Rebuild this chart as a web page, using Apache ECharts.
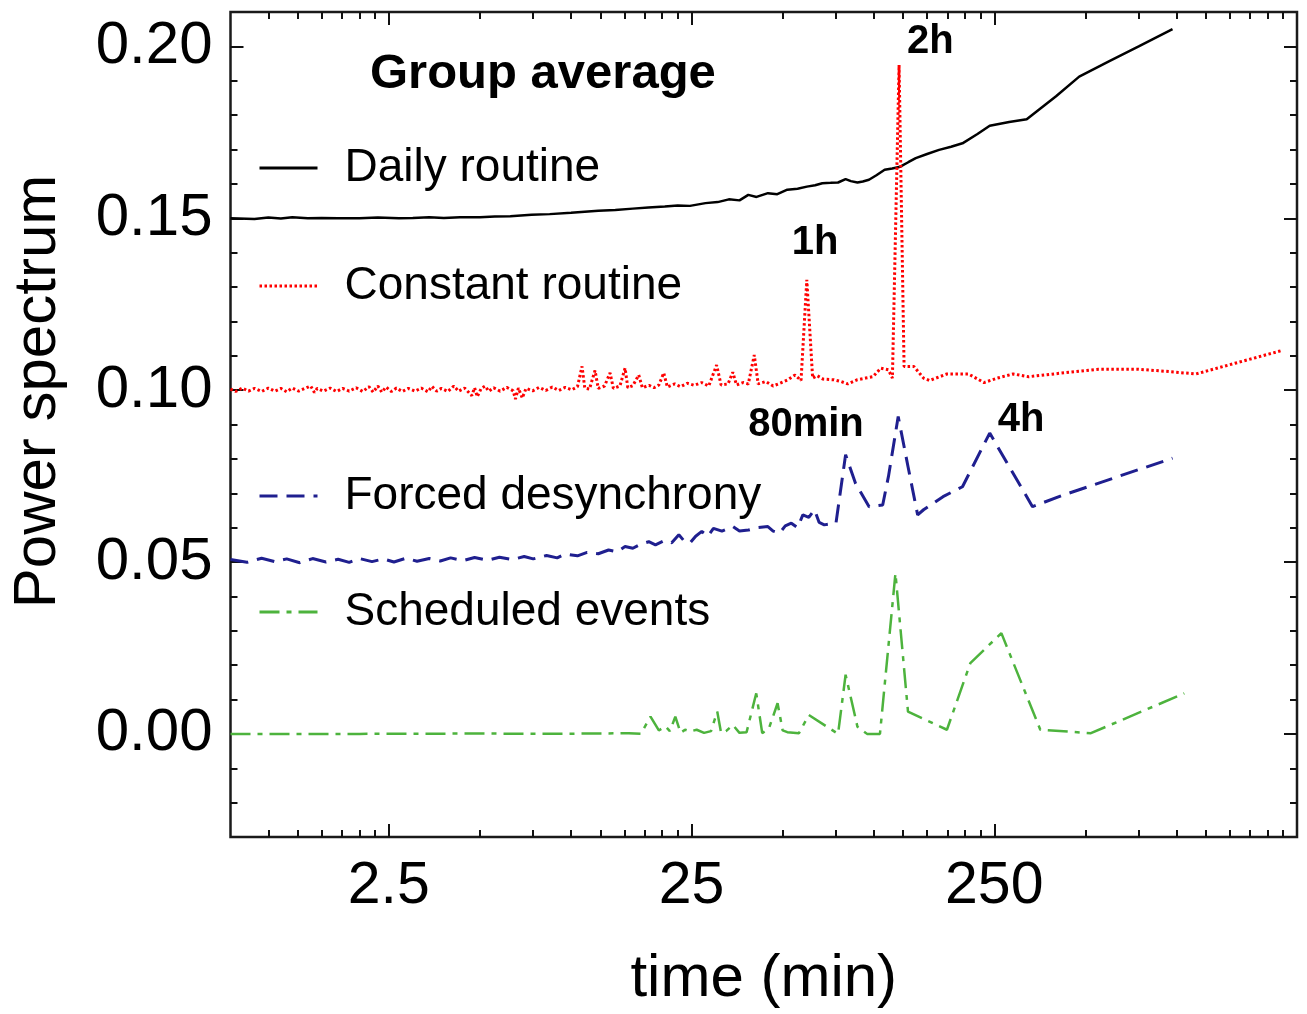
<!DOCTYPE html>
<html>
<head>
<meta charset="utf-8">
<title>Group average</title>
<script src="https://cdn.jsdelivr.net/npm/echarts@6/dist/echarts.min.js"></script>
<style>
  html, body { margin: 0; padding: 0; background: #fff; }
  #chart { width: 1307px; height: 1014px; }
</style>
</head>
<body>
<div id="chart"></div>
<script>
// period (min) / power values
var dailyT = [0.75, 0.9, 1.0, 1.1, 1.2, 1.35, 1.5, 1.7, 2.0, 2.3, 2.7, 3.0, 3.4, 3.8, 4.3, 5.0, 5.6, 6.3, 7.4, 8.5,
  10, 12.3, 14, 16, 18, 20.4, 22.5, 24.7, 27.8, 30.5, 33.2, 36, 38.5, 41, 44.7, 48, 51.8, 56, 60.1, 64, 67.6, 72,
  76.2, 80.7, 84, 88.3, 92, 96.4, 102, 108.6, 115, 122.3, 130, 137.6, 150, 164.3, 180, 196.3, 220, 241.5, 280,
  320, 400, 477, 600, 750, 970];
var dailyV = [0.1500, 0.1498, 0.1502, 0.1499, 0.1503, 0.1500, 0.1501, 0.1500, 0.1500, 0.1502, 0.1500, 0.1501,
  0.1503, 0.1501, 0.1503, 0.1503, 0.1505, 0.1506, 0.1510, 0.1512, 0.1516, 0.1522, 0.1524, 0.1528, 0.1531, 0.1534,
  0.1537, 0.1536, 0.1544, 0.1547, 0.1555, 0.1552, 0.1568, 0.1562, 0.1573, 0.1570, 0.1583, 0.1586, 0.1592, 0.1596,
  0.1602, 0.1603, 0.1604, 0.1614, 0.1608, 0.1604, 0.1607, 0.1612, 0.1625, 0.1641, 0.1645, 0.1650, 0.1663, 0.1675,
  0.1687, 0.1699, 0.1708, 0.1718, 0.1745, 0.1769, 0.1780, 0.1788, 0.1855, 0.1912, 0.1957, 0.2000, 0.2050];

var constantT = [0.75, 0.78, 0.82, 0.86, 0.9, 0.95, 1.0, 1.05, 1.1, 1.15, 1.2, 1.26, 1.32, 1.38, 1.42, 1.45, 1.52,
  1.6, 1.68, 1.76, 1.85, 1.95, 2.05, 2.15, 2.22, 2.3, 2.37, 2.45, 2.55, 2.65, 2.77, 2.9, 3.05, 3.2, 3.37, 3.47, 3.6,
  3.73, 3.92, 4.1, 4.25, 4.45, 4.7, 4.8, 4.9, 5.05, 5.2, 5.35, 5.55, 5.83, 6.13, 6.44, 6.55, 6.7, 6.9, 7.1, 7.47,
  7.85, 8.25, 8.67, 9.1, 9.57, 10.05, 10.5, 10.87, 11.1, 11.5, 12.0, 12.3, 12.9, 13.45, 13.8, 14.5, 15.08, 15.4, 16.0,
  16.73, 17.2, 18.1, 18.8, 19.5, 20.24, 20.8, 22, 23, 24.2, 25.5, 27, 28.5, 30.25, 31.3, 33, 34.22, 35.2, 37, 38.5,
  40.29, 41.5, 44, 46.5, 49, 52, 54.95, 57.5, 60.08, 62.8, 65, 68, 73.9, 78, 82, 88, 94, 99.4, 105.5, 111.8, 115.2,
  121.2, 125.9, 135.6, 146, 152.7, 174.4, 205.3, 231.1, 256, 288.5, 324.6, 411.6, 553.4, 743.9,
  942.4, 1159, 1558, 2223];
var constantV = [0.1003, 0.0996, 0.1006, 0.0997, 0.1005, 0.0996, 0.1006, 0.0997, 0.1005, 0.0995, 0.1006, 0.0997,
  0.1005, 0.1012, 0.0993, 0.1005, 0.0997, 0.1006, 0.0996, 0.1005, 0.0997, 0.1007, 0.0996, 0.1010, 0.0994, 0.1012,
  0.0994, 0.1009, 0.0996, 0.1006, 0.0996, 0.1005, 0.0997, 0.1006, 0.0995, 0.1011, 0.0997, 0.1005, 0.0996, 0.1012,
  0.0997, 0.1006, 0.0984, 0.1007, 0.0981, 0.1005, 0.1012, 0.0997, 0.1007, 0.0997, 0.1008, 0.0998, 0.0974, 0.1006,
  0.0977, 0.1005, 0.0998, 0.1008, 0.0999, 0.1009, 0.0999, 0.1008, 0.1001, 0.1010, 0.1069, 0.1006, 0.1003, 0.1057,
  0.1005, 0.1012, 0.1050, 0.1005, 0.1012, 0.1064, 0.1007, 0.1013, 0.1044, 0.1007, 0.1014, 0.1007, 0.1015, 0.1050,
  0.1009, 0.1018, 0.1010, 0.1020, 0.1014, 0.1022, 0.1012, 0.1073, 0.1015, 0.1018, 0.1052, 0.1015, 0.1022, 0.1018,
  0.1102, 0.1018, 0.1025, 0.1012, 0.1020, 0.1030, 0.1044, 0.1028, 0.1321, 0.1035, 0.1042, 0.1032, 0.1030, 0.1025,
  0.1018, 0.1030, 0.1035, 0.1039, 0.1064, 0.1059, 0.1035, 0.1946, 0.1069, 0.1069, 0.1035, 0.1028,
  0.1047, 0.1047, 0.1022, 0.1035, 0.1047, 0.1039, 0.1049, 0.1061, 0.1061, 0.1054, 0.1047, 0.1078, 0.1115];

var forcedT = [0.75, 0.85, 0.95, 1.05, 1.15, 1.27, 1.4, 1.55, 1.7, 1.85, 2.0, 2.2, 2.4, 2.6, 2.85, 3.1, 3.4, 3.7,
  4.0, 4.4, 4.8, 5.3, 5.8, 6.4, 7.0, 7.5, 8.3, 9.0, 9.55, 10.5, 11.3, 12.3, 13.3, 14.2, 15.08, 16, 17, 18.06, 19,
  20.4, 21.5, 22.7, 23.7, 24.7, 25.8, 27.03, 28.3, 29.53, 31.5, 34.22, 36, 38.55, 41.5, 44.68, 46.5, 48.85, 51,
  53.4, 56, 58.3, 61, 63.7, 66, 68.6, 75.0, 80.7, 87.0, 96.5, 107.0, 111.8, 120.4, 129.7, 139.6, 146, 169.3, 196.3,
  241.5, 334.4, 423.6, 970];
var forcedV = [0.0507, 0.0499, 0.0511, 0.0501, 0.0509, 0.0498, 0.0510, 0.0500, 0.0508, 0.0499, 0.0510, 0.0501,
  0.0509, 0.0500, 0.0511, 0.0502, 0.0510, 0.0503, 0.0512, 0.0504, 0.0513, 0.0505, 0.0514, 0.0507, 0.0516, 0.0509,
  0.0519, 0.0512, 0.0523, 0.0518, 0.0528, 0.0524, 0.0535, 0.0530, 0.0545, 0.0540, 0.0552, 0.0559, 0.0550, 0.0563,
  0.0556, 0.0579, 0.0560, 0.0555, 0.0575, 0.0589, 0.0575, 0.0598, 0.0590, 0.0603, 0.0590, 0.0593, 0.0600, 0.0603,
  0.0590, 0.0584, 0.0605, 0.0613, 0.0600, 0.0637, 0.0630, 0.0652, 0.0615, 0.0608, 0.0613, 0.0812, 0.0729, 0.0661,
  0.0666, 0.0749, 0.0923, 0.0778, 0.0637, 0.0652, 0.0690, 0.0719, 0.0875, 0.0661, 0.0695, 0.0802];

var scheduledT = [0.75, 2, 5, 8, 12, 15.5, 17, 18.3, 19.5, 20.5, 21.2, 22.1, 23.0, 23.8, 24.7, 26, 27.5, 29, 30.4,
  31.3, 32.5, 34.22, 36, 38, 40.9, 42.8, 45, 48.1, 50, 51.8, 56.6, 61.0, 76.2, 80.7, 88.3, 95.0, 104.8, 117.9,
  129.7, 174.4, 208.4, 263.9, 354.8, 521.4, 1061];
var scheduledV = [0.0000, 0.0000, 0.0001, 0.0000, 0.0001, 0.0002, 0.0000, 0.0050, 0.0010, 0.0022, 0.0008, 0.0050,
  0.0003, 0.0012, 0.0007, 0.0012, 0.0003, 0.0008, 0.0065, 0.0003, 0.0008, 0.0026, 0.0003, 0.0005, 0.0118, 0.0002,
  0.0015, 0.0089, 0.0010, 0.0005, 0.0002, 0.0055, 0.0000, 0.0172, 0.0021, 0.0000, 0.0000, 0.0467, 0.0065, 0.0012,
  0.0206, 0.0293, 0.0012, 0.0002, 0.0118];

var seriesNames = ['Daily routine', 'Constant routine', 'Forced desynchrony', 'Scheduled events'];

var annotText = ['2h', '1h', '80min', '4h'];
var annotT = [153.6, 64, 59.7, 306.7];
var annotV = [0.2013, 0.1428, 0.0899, 0.0913];

var xLabelTicks = [2.5, 25, 250];
var xMinorTicks = [1, 1.25, 1.5, 1.75, 2, 2.25, 5, 7.5, 10, 12.5, 15, 17.5, 20, 22.5,
  50, 75, 100, 125, 150, 175, 200, 225, 500, 750, 1000, 1250, 1500, 1750, 2000, 2250];
var yLabelTicks = [0, 0.05, 0.1, 0.15, 0.2];
var yMinorTicks = [-0.02, -0.01, 0.01, 0.02, 0.03, 0.04, 0.06, 0.07, 0.08, 0.09, 0.11, 0.12, 0.13, 0.14,
  0.16, 0.17, 0.18, 0.19];

var FONT = 'Liberation Sans, Arial, Helvetica, sans-serif';

function pairs(ts, vs) {
  return ts.map(function (t, i) { return [t, vs[i]]; });
}

function xAxisDef(pos, ticks, len, labels) {
  return {
    type: 'log', logBase: 10, min: 0.75, max: 2500, position: pos,
    axisLine: { show: false, onZero: false },
    splitLine: { show: false },
    axisTick: { show: true, inside: true, length: len, customValues: ticks,
      lineStyle: { color: '#111', width: 2 } },
    axisLabel: labels ? { show: true, customValues: xLabelTicks, fontSize: 59, fontFamily: FONT,
      color: '#000', margin: 20 } : { show: false }
  };
}

function yAxisDef(pos, ticks, len, labels) {
  return {
    type: 'value', min: -0.03, max: 0.21, position: pos,
    axisLine: { show: false, onZero: false },
    splitLine: { show: false },
    axisTick: { show: true, inside: true, length: len, customValues: ticks,
      lineStyle: { color: '#111', width: 2 } },
    axisLabel: labels ? { show: true, customValues: yLabelTicks, fontSize: 60, fontFamily: FONT,
      color: '#000', margin: 18, formatter: function (v) { return v.toFixed(2); } } : { show: false }
  };
}

var legendTops = [145, 263, 473, 589];

var myChart = echarts.init(document.getElementById('chart'));
var option = {
  animation: false,
  backgroundColor: '#fff',
  title: {
    text: 'Group average', left: 370, top: 50, padding: 0,
    textStyle: { fontSize: 49, fontWeight: 'bold', fontFamily: FONT, color: '#000' }
  },
  legend: seriesNames.map(function (n, i) {
    return {
      data: [n], left: 258, top: legendTops[i], orient: 'vertical', padding: 0,
      itemWidth: 58, itemHeight: 4, selectedMode: false,
      itemStyle: { opacity: 0 },
      lineStyle: { width: 3 },
      textStyle: { fontSize: 46, fontFamily: FONT, color: '#000', padding: [0, 0, 0, 22] }
    };
  }),
  grid: { left: 230.5, right: 10, top: 12, bottom: 177, show: true, borderColor: '#1a1a1a', borderWidth: 2.5,
    containLabel: false },
  xAxis: [
    Object.assign(xAxisDef('bottom', xLabelTicks, 13, true), {
      name: 'time (min)', nameLocation: 'middle', nameGap: 112,
      nameTextStyle: { fontSize: 60, fontFamily: FONT, color: '#000' }
    }),
    xAxisDef('bottom', xMinorTicks, 7, false),
    xAxisDef('top', xLabelTicks, 13, false),
    xAxisDef('top', xMinorTicks, 7, false)
  ],
  yAxis: [
    Object.assign(yAxisDef('left', yLabelTicks, 13, true), {
      name: 'Power spectrum', nameLocation: 'middle', nameGap: 162, nameRotate: 90,
      nameTextStyle: { fontSize: 60, fontFamily: FONT, color: '#000', padding: [0, 0, 0, 66] }
    }),
    yAxisDef('left', yMinorTicks, 7, false),
    yAxisDef('right', yLabelTicks, 13, false),
    yAxisDef('right', yMinorTicks, 7, false)
  ],
  series: [
    {
      name: seriesNames[0], type: 'line', symbol: 'none', showSymbol: false,
      data: pairs(dailyT, dailyV),
      itemStyle: { color: '#000' },
      lineStyle: { color: '#000', width: 2.5, type: 'solid' }
    },
    {
      name: seriesNames[1], type: 'line', symbol: 'none', showSymbol: false,
      data: pairs(constantT, constantV),
      itemStyle: { color: '#ff0000' },
      lineStyle: { color: '#ff0000', width: 3, type: [2.5, 2.5] }
    },
    {
      name: seriesNames[2], type: 'line', symbol: 'none', showSymbol: false,
      data: pairs(forcedT, forcedV),
      itemStyle: { color: '#1f1f8f' },
      lineStyle: { color: '#1f1f8f', width: 3, type: [18, 9] }
    },
    {
      name: seriesNames[3], type: 'line', symbol: 'none', showSymbol: false,
      data: pairs(scheduledT, scheduledV),
      itemStyle: { color: '#4db33d' },
      lineStyle: { color: '#4db33d', width: 2.5, type: [20, 7, 5, 7] }
    },
    {
      name: 'annotations', type: 'scatter', symbolSize: 0.1,
      itemStyle: { color: '#000', opacity: 1 },
      data: pairs(annotT, annotV),
      label: {
        show: true, position: 'inside', fontSize: 40, fontWeight: 'bold', fontFamily: FONT, color: '#000',
        textBorderWidth: 0,
        formatter: function (p) { return annotText[p.dataIndex]; }
      }
    }
  ]
};
myChart.setOption(option);
</script>
</body>
</html>
